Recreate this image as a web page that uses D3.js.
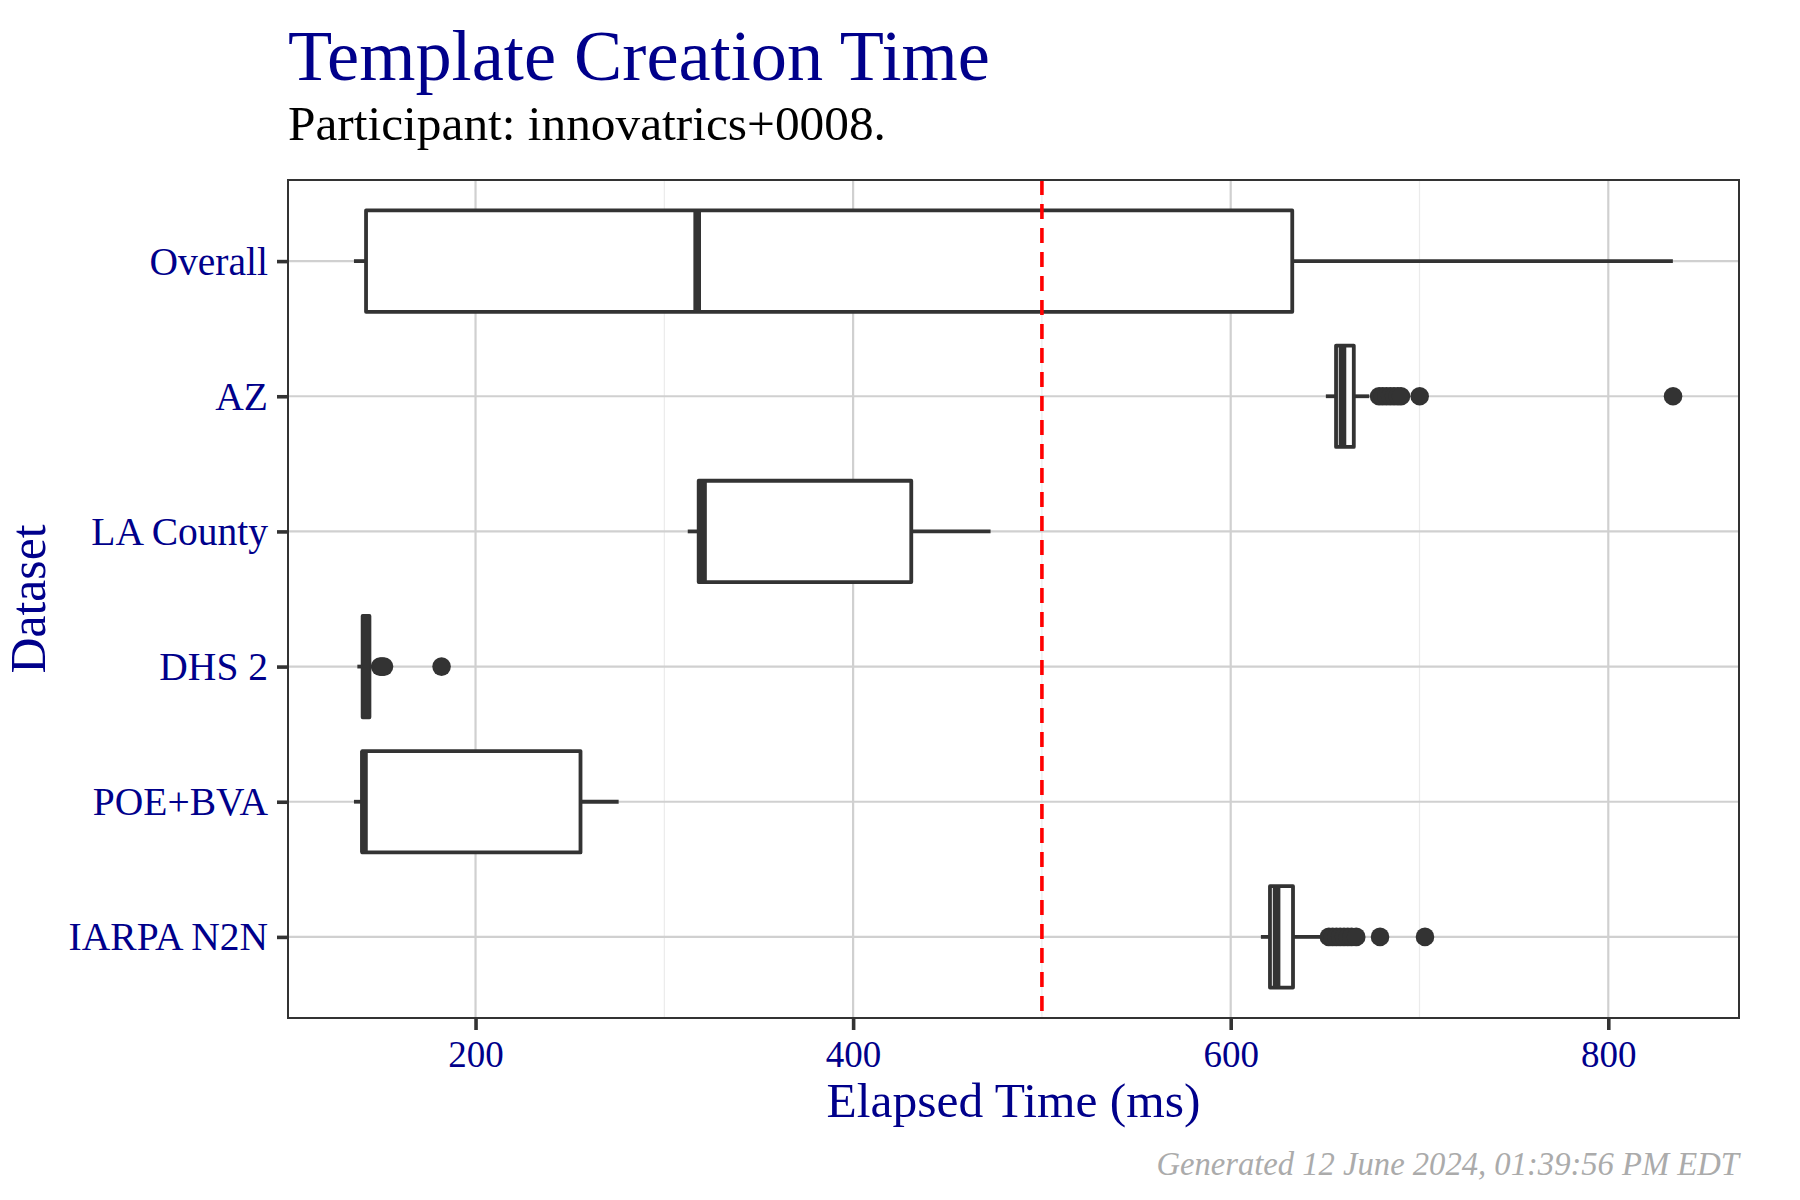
<!DOCTYPE html>
<html>
<head>
<meta charset="utf-8">
<script src="https://cdn.jsdelivr.net/npm/d3@7"></script>
<style>
  html, body { margin: 0; padding: 0; background: #ffffff; }
  svg { display: block; }
</style>
</head>
<body>
<svg id="chart" width="1800" height="1200"></svg>
<script>
// ---------------- data ----------------
const categories  = ["Overall", "AZ", "LA County", "DHS 2", "POE+BVA", "IARPA N2N"];
const whiskerLow  = [135.6, 650.4, 312.4, 137.4, 135.6, 616.0];
const q1          = [142.0, 655.8, 318.2, 140.2, 140.0, 620.8];
const medians     = [317.4, 659.2, 320.5, 142.0, 140.9, 624.3];
const q3          = [632.6, 665.2, 430.8, 143.8, 255.6, 633.0];
const whiskerHigh = [834.2, 673.4, 472.8, 146.5, 275.8, 648.0];
const outliers    = [
  [],
  [678.6, 680.5, 682.5, 684.5, 686.5, 688.5, 690.2, 700.1, 834.3],
  [],
  [149.5, 150.5, 151.5, 182.0],
  [],
  [652, 654, 656, 658, 660, 662, 664, 666.5, 679.1, 702.9]
];
const xTicks      = [200, 400, 600, 800];
const xMinorTicks = [100, 300, 500, 700];
const threshold   = 500;

const titleText    = "Template Creation Time";
const subtitleText = "Participant: innovatrics+0008.";
const xTitle       = "Elapsed Time (ms)";
const yTitle       = "Dataset";
const captionText  = "Generated 12 June 2024, 01:39:56 PM EDT";

// ---------------- layout ----------------
const FONT = "'Liberation Serif', 'DejaVu Serif', serif";
const NAVY = "#00008B";
const INK  = "#333333";
const panel = { left: 288, right: 1739, top: 180, bottom: 1018 };

const svg = d3.select("#chart");

const allVals = whiskerLow.concat(whiskerHigh, outliers.flat());
const vmin = d3.min(allVals), vmax = d3.max(allVals);
const pad = (vmax - vmin) * 0.05;
const x = d3.scaleLinear().domain([vmin - pad, vmax + pad]).range([panel.left, panel.right]);
const y = d3.scalePoint().domain(categories).range([panel.top, panel.bottom]).padding(0.6);
const half = y.step() * 0.375;

// panel background
svg.append("rect")
  .attr("x", panel.left).attr("y", panel.top)
  .attr("width", panel.right - panel.left).attr("height", panel.bottom - panel.top)
  .attr("fill", "#ffffff");

const grid = svg.append("g");
// minor vertical grid
grid.selectAll("line.minor").data(xMinorTicks.filter(t => t > x.domain()[0] && t < x.domain()[1]))
  .join("line").attr("class", "minor")
  .attr("x1", d => x(d)).attr("x2", d => x(d))
  .attr("y1", panel.top).attr("y2", panel.bottom)
  .attr("stroke", "#ebebeb").attr("stroke-width", 1.2);
// major vertical grid
grid.selectAll("line.majx").data(xTicks)
  .join("line").attr("class", "majx")
  .attr("x1", d => x(d)).attr("x2", d => x(d))
  .attr("y1", panel.top).attr("y2", panel.bottom)
  .attr("stroke", "#d0d0d0").attr("stroke-width", 2.2);
// major horizontal grid
grid.selectAll("line.majy").data(categories)
  .join("line").attr("class", "majy")
  .attr("x1", panel.left).attr("x2", panel.right)
  .attr("y1", d => y(d)).attr("y2", d => y(d))
  .attr("stroke", "#d0d0d0").attr("stroke-width", 2.2);

// ---------------- boxplots ----------------
const boxes = svg.append("g").selectAll("g.box").data(categories).join("g").attr("class", "box");
boxes.each(function(cat, i) {
  const g = d3.select(this);
  const cy = y(cat);
  // whiskers
  g.append("line")
    .attr("x1", x(whiskerLow[i])).attr("x2", x(q1[i]))
    .attr("y1", cy).attr("y2", cy)
    .attr("stroke", INK).attr("stroke-width", 3.8);
  g.append("line")
    .attr("x1", x(q3[i])).attr("x2", x(whiskerHigh[i]))
    .attr("y1", cy).attr("y2", cy)
    .attr("stroke", INK).attr("stroke-width", 3.8);
  // box
  g.append("rect")
    .attr("x", x(q1[i])).attr("y", cy - half)
    .attr("width", x(q3[i]) - x(q1[i])).attr("height", 2 * half)
    .attr("fill", "#ffffff").attr("stroke", INK).attr("stroke-width", 3.8)
    .attr("stroke-linejoin", "round");
  // median
  g.append("line")
    .attr("x1", x(medians[i])).attr("x2", x(medians[i]))
    .attr("y1", cy - half).attr("y2", cy + half)
    .attr("stroke", INK).attr("stroke-width", 7.6);
  // outliers
  g.selectAll("circle").data(outliers[i]).join("circle")
    .attr("cx", d => x(d)).attr("cy", cy).attr("r", 9.3)
    .attr("fill", INK);
});

// threshold line
svg.append("line")
  .attr("x1", x(threshold)).attr("x2", x(threshold))
  .attr("y1", panel.top).attr("y2", panel.bottom)
  .attr("stroke", "#ff0000").attr("stroke-width", 3.6)
  .attr("stroke-dasharray", "15,9");

// panel border
svg.append("rect")
  .attr("x", panel.left).attr("y", panel.top)
  .attr("width", panel.right - panel.left).attr("height", panel.bottom - panel.top)
  .attr("fill", "none").attr("stroke", INK).attr("stroke-width", 2);

// ---------------- axes ----------------
const xAxis = svg.append("g")
  .attr("transform", `translate(0,${panel.bottom})`)
  .call(d3.axisBottom(x).tickValues(xTicks).tickFormat(d3.format("d")).tickSize(12).tickPadding(10));
xAxis.select(".domain").remove();
xAxis.selectAll(".tick line").attr("stroke", INK).attr("stroke-width", 3.6);
xAxis.selectAll(".tick text")
  .attr("fill", NAVY).attr("font-family", FONT).attr("font-size", 37)
  .attr("dy", null).attr("y", 48.5);

const yAxis = svg.append("g")
  .attr("transform", `translate(${panel.left},0)`)
  .call(d3.axisLeft(y).tickSize(11).tickPadding(9));
yAxis.select(".domain").remove();
yAxis.selectAll(".tick line").attr("stroke", INK).attr("stroke-width", 3.6);
yAxis.selectAll(".tick text")
  .attr("fill", NAVY).attr("font-family", FONT).attr("font-size", 39.5)
  .attr("dy", "0.33em");

// ---------------- texts ----------------
function fitWidth(sel, target) {
  const base = +sel.attr("font-size");
  const w = sel.node().getComputedTextLength();
  if (w > 0) sel.attr("font-size", base * target / w);
}

const title = svg.append("text")
  .attr("x", panel.left).attr("y", 80)
  .attr("fill", NAVY).attr("font-family", FONT).attr("font-size", 68)
  .text(titleText);
fitWidth(title, 702);

const subtitle = svg.append("text")
  .attr("x", panel.left).attr("y", 140)
  .attr("fill", "#000000").attr("font-family", FONT).attr("font-size", 40)
  .text(subtitleText);
fitWidth(subtitle, 598);

const xt = svg.append("text")
  .attr("x", (panel.left + panel.right) / 2).attr("y", 1117)
  .attr("text-anchor", "middle")
  .attr("fill", NAVY).attr("font-family", FONT).attr("font-size", 44)
  .text(xTitle);
fitWidth(xt, 374);

const yt = svg.append("text")
  .attr("transform", `translate(45,${(panel.top + panel.bottom) / 2}) rotate(-90)`)
  .attr("text-anchor", "middle")
  .attr("fill", NAVY).attr("font-family", FONT).attr("font-size", 44)
  .text(yTitle);
fitWidth(yt, 149);

const cap = svg.append("text")
  .attr("x", panel.right).attr("y", 1175)
  .attr("text-anchor", "end")
  .attr("fill", "#ababab").attr("font-family", FONT).attr("font-style", "italic")
  .attr("font-size", 29)
  .text(captionText);
fitWidth(cap, 583);
</script>
</body>
</html>
